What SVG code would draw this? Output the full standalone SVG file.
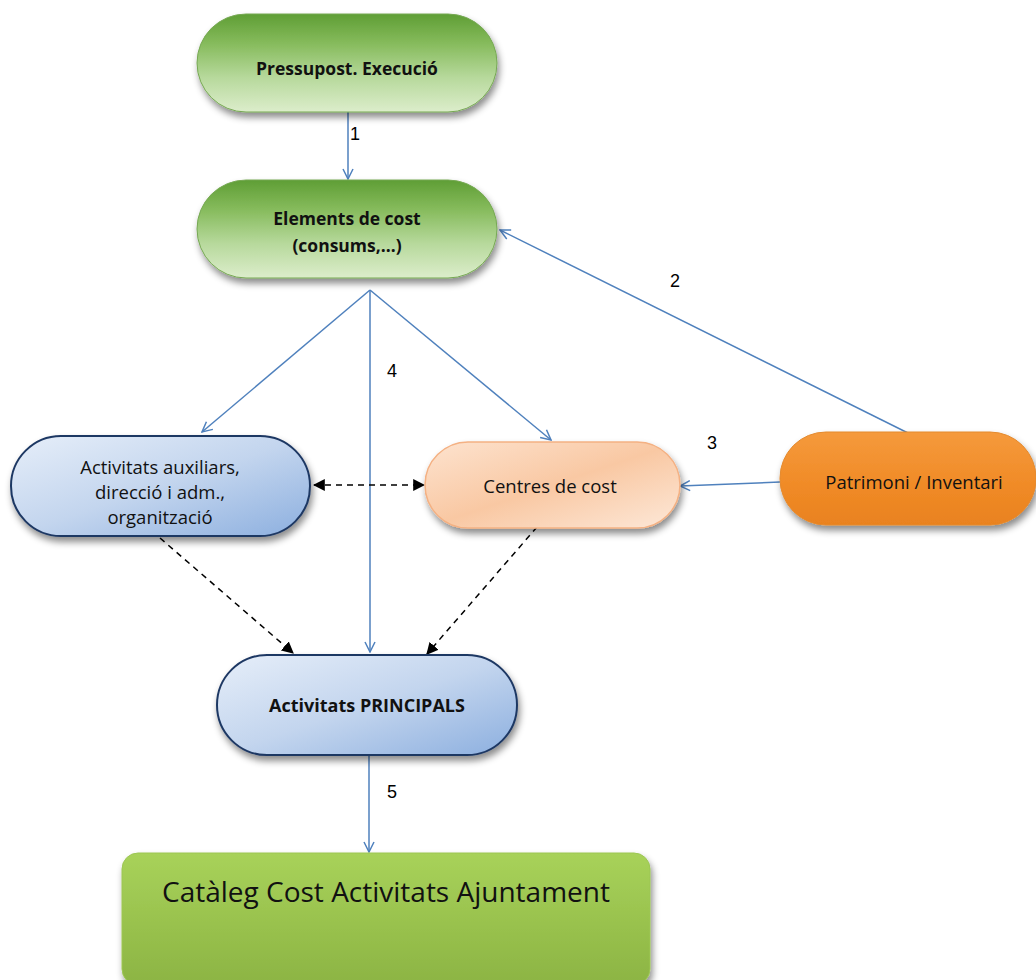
<svg xmlns="http://www.w3.org/2000/svg" width="1036" height="980" viewBox="0 0 1036 980">
<style>
.lbl{font-family:"Liberation Sans",Arial,sans-serif;font-size:18px;fill:#000}
.t{font-family:"Open Sans","Liberation Sans",sans-serif;fill:#111;text-anchor:middle}
.b{font-weight:bold}
.blue{stroke:#4f81bd;stroke-width:1.5;fill:none}
.dash{stroke:#000;stroke-width:1.5;fill:none;stroke-dasharray:6,5}
</style>
<defs>
<filter id="sh" x="-10%" y="-10%" width="125%" height="140%">
<feDropShadow dx="2" dy="5" stdDeviation="3.5" flood-color="#000" flood-opacity="0.45"/>
</filter>
<linearGradient id="gGreen" x1="0" y1="0" x2="0" y2="1">
<stop offset="0" stop-color="#5f9e35"/>
<stop offset="0.3" stop-color="#86bb5c"/>
<stop offset="0.65" stop-color="#b7d99c"/>
<stop offset="1" stop-color="#dcedcb"/>
</linearGradient>
<linearGradient id="gBlue" x1="0" y1="0" x2="1" y2="1">
<stop offset="0" stop-color="#e6eef9"/>
<stop offset="0.5" stop-color="#c3d5ee"/>
<stop offset="1" stop-color="#8cafdf"/>
</linearGradient>
<linearGradient id="gPeach" x1="0" y1="0" x2="1" y2="1">
<stop offset="0" stop-color="#fde3cf"/>
<stop offset="0.5" stop-color="#f9c8a3"/>
<stop offset="1" stop-color="#fde8d8"/>
</linearGradient>
<linearGradient id="gOrange" x1="0" y1="0" x2="0" y2="1">
<stop offset="0" stop-color="#f59a3c"/>
<stop offset="0.6" stop-color="#f08a26"/>
<stop offset="1" stop-color="#e9821f"/>
</linearGradient>
<linearGradient id="gLime" x1="0" y1="0" x2="0" y2="1">
<stop offset="0" stop-color="#a8d25a"/>
<stop offset="1" stop-color="#8cb443"/>
</linearGradient>
<marker id="open" viewBox="0 0 12 12" refX="11" refY="6" markerWidth="12" markerHeight="12" markerUnits="userSpaceOnUse" orient="auto">
<path d="M1,1 L11,6 L1,11" fill="none" stroke="#4f81bd" stroke-width="1.5"/>
</marker>
<marker id="solid" viewBox="0 0 10 10" refX="9" refY="5" markerWidth="12" markerHeight="12" markerUnits="userSpaceOnUse" orient="auto-start-reverse">
<path d="M0,0 L10,5 L0,10 Z" fill="#000"/>
</marker>
</defs>
<rect width="1036" height="980" fill="#fff"/>

<g id="connectors">
<line class="blue" x1="348" y1="112" x2="348" y2="179" marker-end="url(#open)"/>
<line class="blue" x1="912" y1="435" x2="500" y2="230" marker-end="url(#open)"/>
<line class="blue" x1="780" y1="482" x2="680" y2="486" marker-end="url(#open)"/>
<line class="blue" x1="370" y1="290" x2="202" y2="432" marker-end="url(#open)"/>
<line class="blue" x1="370" y1="290" x2="551" y2="440" marker-end="url(#open)"/>
<line class="blue" x1="370" y1="290" x2="370" y2="652" marker-end="url(#open)"/>
<line class="blue" x1="369" y1="755" x2="369" y2="852" marker-end="url(#open)"/>
<line class="dash" x1="314" y1="485" x2="424" y2="485" marker-start="url(#solid)" marker-end="url(#solid)"/>
<line class="dash" x1="160" y1="538" x2="293" y2="653" marker-end="url(#solid)"/>
<line class="dash" x1="537" y1="527" x2="427" y2="654" marker-end="url(#solid)"/>
<text class="lbl" x="350" y="140">1</text>
<text class="lbl" x="670" y="287">2</text>
<text class="lbl" x="707" y="449">3</text>
<text class="lbl" x="387" y="377">4</text>
<text class="lbl" x="387" y="798">5</text>
</g>

<g id="pressupost">
<rect x="197" y="14" width="300" height="98" rx="49" fill="url(#gGreen)" stroke="#76a853" stroke-width="1" filter="url(#sh)"/>
<text class="t b" x="347" y="75" font-size="17.5">Pressupost. Execució</text>
</g>

<g id="elements">
<rect x="197" y="180" width="300" height="98" rx="49" fill="url(#gGreen)" stroke="#76a853" stroke-width="1" filter="url(#sh)"/>
<text class="t b" x="347" y="225" font-size="17.5">Elements de cost</text>
<text class="t b" x="347" y="252" font-size="17.5">(consums,…)</text>
</g>

<g id="auxiliars">
<rect x="11" y="436" width="299" height="100" rx="50" fill="url(#gBlue)" stroke="#1f3864" stroke-width="2" filter="url(#sh)"/>
<text class="t" x="160" y="474" font-size="18.5">Activitats auxiliars,</text>
<text class="t" x="160" y="499" font-size="18.5">direcció i adm.,</text>
<text class="t" x="160" y="524" font-size="18.5">organització</text>
</g>

<g id="centres">
<rect x="425" y="442" width="255" height="86" rx="43" fill="url(#gPeach)" stroke="#f4b183" stroke-width="1.5" filter="url(#sh)"/>
<text class="t" x="550" y="493" font-size="18.5">Centres de cost</text>
</g>

<g id="patrimoni">
<rect x="780" y="432" width="256" height="93" rx="46" fill="url(#gOrange)" stroke="#e48a2e" stroke-width="1" filter="url(#sh)"/>
<text class="t" x="914" y="489" font-size="18.5">Patrimoni / Inventari</text>
</g>

<g id="principals">
<rect x="217" y="655" width="300" height="100" rx="50" fill="url(#gBlue)" stroke="#1f3864" stroke-width="2" filter="url(#sh)"/>
<text class="t b" x="367" y="712" font-size="18">Activitats PRINCIPALS</text>
</g>

<g id="cataleg">
<rect x="122" y="853" width="528" height="132" rx="16" fill="url(#gLime)" stroke="#9cc653" stroke-width="1" filter="url(#sh)"/>
<text class="t" x="386" y="902" font-size="28">Catàleg Cost Activitats Ajuntament</text>
</g>
</svg>
